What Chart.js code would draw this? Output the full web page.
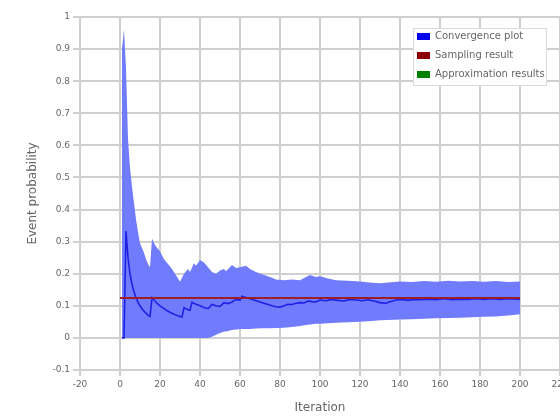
<!DOCTYPE html>
<html>
<head>
<meta charset="utf-8">
<script src="https://cdn.jsdelivr.net/npm/chart.js@4.4.1/dist/chart.umd.min.js"></script>
<style>
  html, body { margin: 0; padding: 0; background: #fff; overflow: hidden; }
  #wrap { width: 560px; height: 418px; overflow: hidden; }
</style>
</head>
<body>
<div id="wrap"><canvas id="chart" width="580" height="418"></canvas></div>
<script>
// --- data ---
const convIter = [1, 2, 3, 4, 5, 6, 7, 8, 9, 10, 11, 12, 13, 14, 15, 16, 17, 18, 19, 20,
  22, 24, 26, 28, 30, 31, 32, 34, 35, 36, 38, 40, 42, 44, 46, 48, 50, 52, 54, 56, 58, 60,
  61, 63, 65, 67, 70, 72, 74, 76, 78, 80, 82, 84, 86, 88, 90, 92, 94, 96, 98, 100,
  103, 106, 109, 112, 115, 118, 121, 124, 127, 130, 133, 135, 138, 141, 144, 147, 150,
  154, 158, 162, 166, 170, 174, 178, 182, 186, 190, 194, 198, 200];
const convValue = [0, 0, 0.333, 0.25, 0.2, 0.167, 0.143, 0.125, 0.111, 0.1, 0.091, 0.083, 0.077, 0.071, 0.067, 0.125, 0.118, 0.111, 0.105, 0.1,
  0.091, 0.083, 0.077, 0.071, 0.067, 0.065, 0.094, 0.088, 0.086, 0.111, 0.105, 0.1, 0.095, 0.091, 0.104, 0.1, 0.098, 0.11, 0.107, 0.112, 0.12, 0.117,
  0.13, 0.126, 0.122, 0.118, 0.112, 0.108, 0.104, 0.1, 0.097, 0.096, 0.1, 0.105, 0.104, 0.108, 0.11, 0.109, 0.115, 0.113, 0.112, 0.118,
  0.116, 0.12, 0.117, 0.115, 0.12, 0.118, 0.116, 0.119, 0.115, 0.11, 0.108, 0.113, 0.118, 0.12, 0.117, 0.12, 0.119,
  0.121, 0.119, 0.122, 0.119, 0.121, 0.12, 0.122, 0.12, 0.122, 0.12, 0.122, 0.121, 0.121];

const bandIter = [1, 2, 3, 4, 5, 6, 7, 8, 9, 10, 11, 12, 13, 14, 15, 16, 17, 18, 20, 22, 24, 26, 28, 30,
  32, 34, 35, 37, 38, 40, 42, 44, 46, 48, 50, 52, 53, 56, 58, 61, 63, 65, 68, 71, 75, 78, 82, 86, 90,
  93, 95, 98, 100, 104, 108, 114, 120, 126, 130, 134, 140, 146, 152, 158, 164, 170, 176, 182, 188, 194, 200];
const bandUpper = [0.9, 0.96, 0.84, 0.62, 0.53, 0.47, 0.42, 0.37, 0.33, 0.295, 0.28, 0.265, 0.245, 0.23, 0.22, 0.31, 0.295, 0.285, 0.27, 0.245, 0.23, 0.215, 0.195, 0.175,
  0.2, 0.215, 0.205, 0.233, 0.225, 0.243, 0.235, 0.22, 0.205, 0.2, 0.21, 0.215, 0.208, 0.227, 0.218, 0.222, 0.225, 0.215, 0.205, 0.198, 0.19, 0.182, 0.18, 0.182, 0.18,
  0.19, 0.196, 0.19, 0.192, 0.185, 0.18, 0.178, 0.176, 0.172, 0.17, 0.173, 0.176, 0.174, 0.177, 0.175, 0.178, 0.176, 0.177, 0.175, 0.177, 0.174, 0.176];
const bandLower = [0, 0, 0, 0, 0, 0, 0, 0, 0, 0, 0, 0, 0, 0, 0, 0, 0, 0, 0, 0, 0, 0, 0, 0,
  0, 0, 0, 0, 0, 0, 0, 0, 0.004, 0.01, 0.015, 0.02, 0.02, 0.025, 0.026, 0.028, 0.028, 0.028, 0.029, 0.03, 0.03, 0.031, 0.032, 0.034, 0.037,
  0.04, 0.042, 0.044, 0.044, 0.046, 0.047, 0.049, 0.05, 0.053, 0.055, 0.056, 0.057, 0.058, 0.06, 0.061, 0.062, 0.063, 0.064, 0.066, 0.067, 0.07, 0.074];

const samplingIter = [0, 200];
const samplingValue = [0.124, 0.124];

const legendLabels = ['Convergence plot', 'Sampling result', 'Approximation results'];
const legendColors = ['#0000f0', '#8c0000', '#008000'];

const FONT = "'DejaVu Sans', sans-serif";
const TEXT = '#666';
const GRID = '#cfcfcf';

const points = (xs, ys) => xs.map((x, i) => ({ x: x, y: ys[i] }));

// legend box drawn inside the plot, top right
const boxLegend = {
  id: 'boxLegend',
  afterDraw(chart) {
    const ctx = chart.ctx;
    const x = 413, y = 28, w = 134, h = 58;
    ctx.save();
    ctx.fillStyle = '#fff';
    ctx.fillRect(x, y, w, h);
    ctx.strokeStyle = '#dcdcdc';
    ctx.lineWidth = 1;
    ctx.strokeRect(x + 0.5, y + 0.5, w - 1, h - 1);
    ctx.font = '10px ' + FONT;
    ctx.textBaseline = 'middle';
    legendLabels.forEach((label, i) => {
      const cy = 36.5 + i * 19;
      ctx.fillStyle = legendColors[i];
      ctx.fillRect(417, cy - 3.5, 13, 7);
      ctx.fillStyle = TEXT;
      ctx.fillText(label, 435, cy);
    });
    ctx.restore();
  }
};

new Chart(document.getElementById('chart'), {
  type: 'line',
  data: {
    datasets: [
      { label: legendLabels[1], data: points(samplingIter, samplingValue),
        borderColor: '#a01c26', borderWidth: 2, pointRadius: 0, fill: false },
      { label: legendLabels[0], data: points(convIter, convValue),
        borderColor: '#2020e4', borderWidth: 1.6, pointRadius: 0, fill: false },
      { label: legendLabels[2], data: [],
        borderColor: '#008000', borderWidth: 1.5, pointRadius: 0, fill: false },
      { label: 'upper', data: points(bandIter, bandUpper),
        borderWidth: 0, borderColor: 'rgba(0,0,0,0)', pointRadius: 0,
        backgroundColor: 'rgb(112,124,252)', fill: '+1' },
      { label: 'lower', data: points(bandIter, bandLower),
        borderWidth: 0, borderColor: 'rgba(0,0,0,0)', pointRadius: 0, fill: false }
    ]
  },
  options: {
    responsive: false,
    animation: false,
    devicePixelRatio: 1,
    layout: { padding: { left: 0, right: 20, top: 17, bottom: 0 } },
    plugins: { legend: { display: false }, tooltip: { enabled: false } },
    scales: {
      x: {
        type: 'linear', min: -20, max: 220,
        ticks: { stepSize: 20, color: TEXT, font: { family: FONT, size: 9 }, padding: 3, maxRotation: 0 },
        grid: { color: GRID, lineWidth: 2, tickLength: 6 },
        border: { color: GRID, width: 2 },
        title: { display: true, text: 'Iteration', color: TEXT,
                 font: { family: FONT, size: 12 }, padding: { top: 0, bottom: 3 } },
        afterFit(scale) { scale.height = 48; }
      },
      y: {
        type: 'linear', min: -0.1, max: 1,
        ticks: { stepSize: 0.1, color: TEXT, font: { family: FONT, size: 9 }, padding: 3,
                 callback: v => String(+v.toFixed(1)) },
        grid: { color: GRID, lineWidth: 2, tickLength: 7 },
        border: { color: GRID, width: 2 },
        title: { display: true, text: 'Event probability', color: TEXT,
                 font: { family: FONT, size: 12 }, padding: { top: 26, bottom: 0 } },
        afterFit(scale) { scale.width = 80; }
      }
    }
  },
  plugins: [boxLegend]
});
</script>
</body>
</html>
